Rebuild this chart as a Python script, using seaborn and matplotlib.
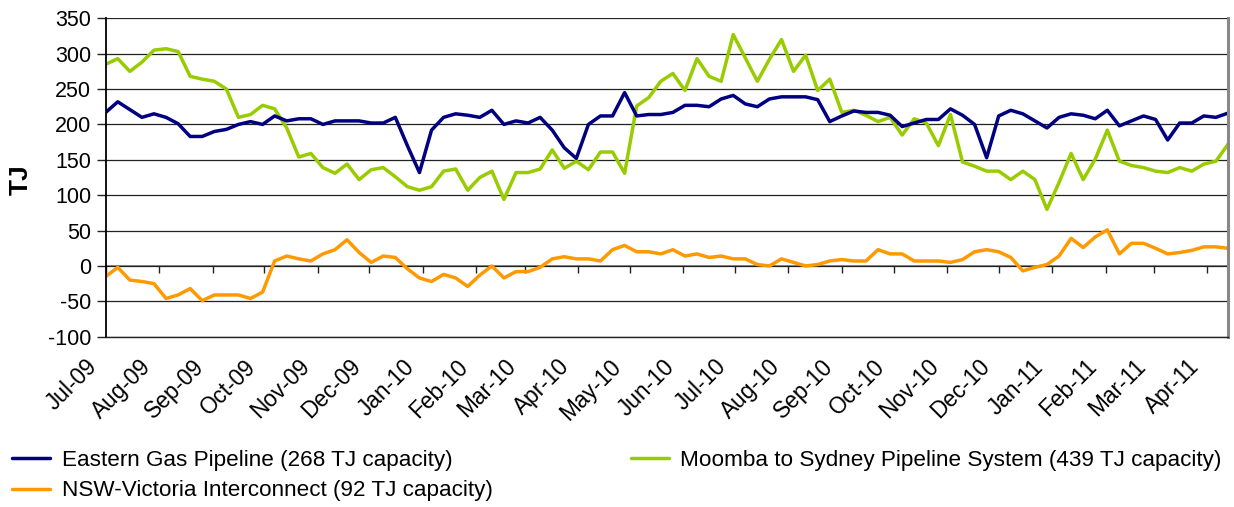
import matplotlib
matplotlib.use("Agg")
import matplotlib.pyplot as plt
from matplotlib.transforms import ScaledTranslation
import numpy as np
import pandas as pd
import seaborn as sns

# ---------------- data ----------------
start_date = "2009-07-01"
n_weeks = 94
series_names = [
    "Eastern Gas Pipeline (268 TJ capacity)",
    "NSW-Victoria Interconnect (92 TJ capacity)",
    "Moomba to Sydney Pipeline System (439 TJ capacity)",
]
eastern = [217, 232, 221, 210, 215, 210, 201, 183, 183, 190,
           193, 200, 204, 200, 212, 205, 208, 208, 200, 205,
           205, 205, 202, 202, 210, 170, 132, 192, 210, 215,
           213,
           210, 220, 200, 205, 202, 210, 192, 167, 152, 200,
           212, 212, 245, 212, 214, 214, 217, 227, 227, 225,
           236, 241, 229, 225, 236, 239, 239, 239, 235, 204,
           212,
           219, 217, 217, 213, 197, 202, 207, 207, 222, 213,
           200, 153, 212, 220, 215, 205, 195, 210, 215, 213,
           208, 220, 198, 205, 212, 207, 178, 202, 202, 212,
           210, 216]
moomba = [285, 293, 275, 288, 305, 307, 303, 268, 264, 261,
          250, 210, 214, 227, 222, 195, 154, 159, 139, 131,
          144, 122, 136, 139, 126, 112, 107, 112, 134, 137,
          107,
          125, 134, 94, 132, 132, 137, 164, 138, 148, 136,
          161, 161, 131, 226, 238, 261, 272, 248, 293, 268,
          261, 327, 294, 261, 292, 320, 275, 298, 248, 264,
          217,
          220, 213, 204, 210, 185, 208, 202, 170, 214, 147,
          141, 134, 134, 122, 134, 122, 80, 118, 159, 122,
          151, 192, 148, 142, 139, 134, 132, 139, 134, 144,
          148, 172]
nsw_vic = [-15, -2, -20, -22, -25, -46, -41, -32, -49, -41,
           -41, -41, -46, -37, 7, 14, 10, 7, 17, 23,
           37, 19, 5, 14, 12, -4, -17, -22, -12, -17,
           -29,
           -13, 0, -17, -8, -8, -2, 10, 13, 10, 10,
           7, 23, 29, 20, 20, 17, 23, 14, 17, 12,
           14, 10, 10, 2, 0, 10, 5, 0, 2, 7,
           9,
           7, 7, 23, 17, 17, 7, 7, 7, 5, 9,
           20, 23, 20, 12, -7, -2, 2, 14, 39, 26,
           41, 51, 17, 32, 32, 25, 17, 19, 22, 27,
           27, 25]
y_ticks = [-100, -50, 0, 50, 100, 150, 200, 250, 300, 350]
month_ticks = pd.date_range("2009-07-01", "2011-04-01", freq="MS")
month_labels = [d.strftime("%b-%y") for d in month_ticks]
colors = ["#000080", "#FF9900", "#99CC00"]

dates = pd.date_range(start_date, periods=n_weeks, freq="7D")
df = pd.DataFrame({
    "date": np.tile(dates, 3),
    "TJ": eastern + nsw_vic + moomba,
    "series": np.repeat(series_names, n_weeks),
})

# ---------------- figure ----------------
sns.set_theme(style="white")
plt.rcParams["font.family"] = ["Liberation Sans", "DejaVu Sans"]
plt.rcParams["axes.unicode_minus"] = False
for k in ["text.color", "axes.labelcolor", "xtick.labelcolor", "ytick.labelcolor"]:
    plt.rcParams[k] = "black"

W, H = 1234, 507
fig = plt.figure(figsize=(W / 100, H / 100), dpi=100)
L, R, T, B = 105.7, 1228, 18.3, 336.7
ax = fig.add_axes([L / W, 1 - B / H, (R - L) / W, (B - T) / H])

palette = dict(zip(series_names, colors))
sns.lineplot(data=df, x="date", y="TJ", hue="series",
             hue_order=[series_names[2], series_names[0], series_names[1]],
             palette=palette, linewidth=2.5, ax=ax, legend=True)

ax.set_xlim(dates[0], dates[-1])
ax.set_ylim(-100, 350)
ax.set_yticks(y_ticks)
ax.yaxis.grid(True, color="#222222", linewidth=0.9)
ax.set_axisbelow(True)
ax.tick_params(axis="y", labelsize=15.5, length=6.5, width=1, color="#222222",
               pad=4, left=True, labelcolor="black")

ax.set_xticks(month_ticks)
ax.set_xticklabels(month_labels, rotation=45, ha="right", va="center",
                   rotation_mode="anchor", fontsize=16.3, color="black")
ax.tick_params(axis="x", length=0, pad=19)
off = ScaledTranslation(-12 / 100, 0, fig.dpi_scale_trans)
for lbl in ax.get_xticklabels():
    lbl.set_transform(lbl.get_transform() + off)

ax.spines["top"].set_visible(False)
ax.spines["left"].set_color("black")
ax.spines["left"].set_linewidth(1.3)
ax.spines["bottom"].set_color("#222222")
ax.spines["bottom"].set_linewidth(1.0)
ax.spines["right"].set_color("#888888")
ax.spines["right"].set_linewidth(2.2)

# tick marks along the zero line
sec = ax.secondary_xaxis((0 - (-100)) / 450)
sec.set_xticks(month_ticks)
sec.set_xticklabels([""] * len(month_ticks))
sec.tick_params(axis="x", direction="out", length=5, width=1, color="#222222")
for sp in sec.spines.values():
    sp.set_color("#777777")
    sp.set_linewidth(1.2)

ax.set_xlabel("")
ax.set_ylabel("TJ", fontsize=19, fontweight="bold", color="black")
ax.yaxis.set_label_coords((33 - L) / (R - L), (B - 180) / (B - T))

# legend
handles, labels = ax.get_legend_handles_labels()
ax.get_legend().remove()
hmap = dict(zip(labels, handles))
order = [series_names[0], series_names[1], series_names[2]]
hs = [hmap[n] for n in order]
for h in hs:
    h.set_linewidth(2.5)
leg = fig.legend(hs, order, loc="upper left", bbox_to_anchor=(12 / W, 1 - 450 / H),
                 ncol=2, frameon=False, fontsize=16.2, borderpad=0, borderaxespad=0,
                 handlelength=1.7, handletextpad=0.5, labelspacing=0.42,
                 columnspacing=6.15)
for t in leg.get_texts():
    t.set_color("black")

fig.savefig("out.png", dpi=100)
